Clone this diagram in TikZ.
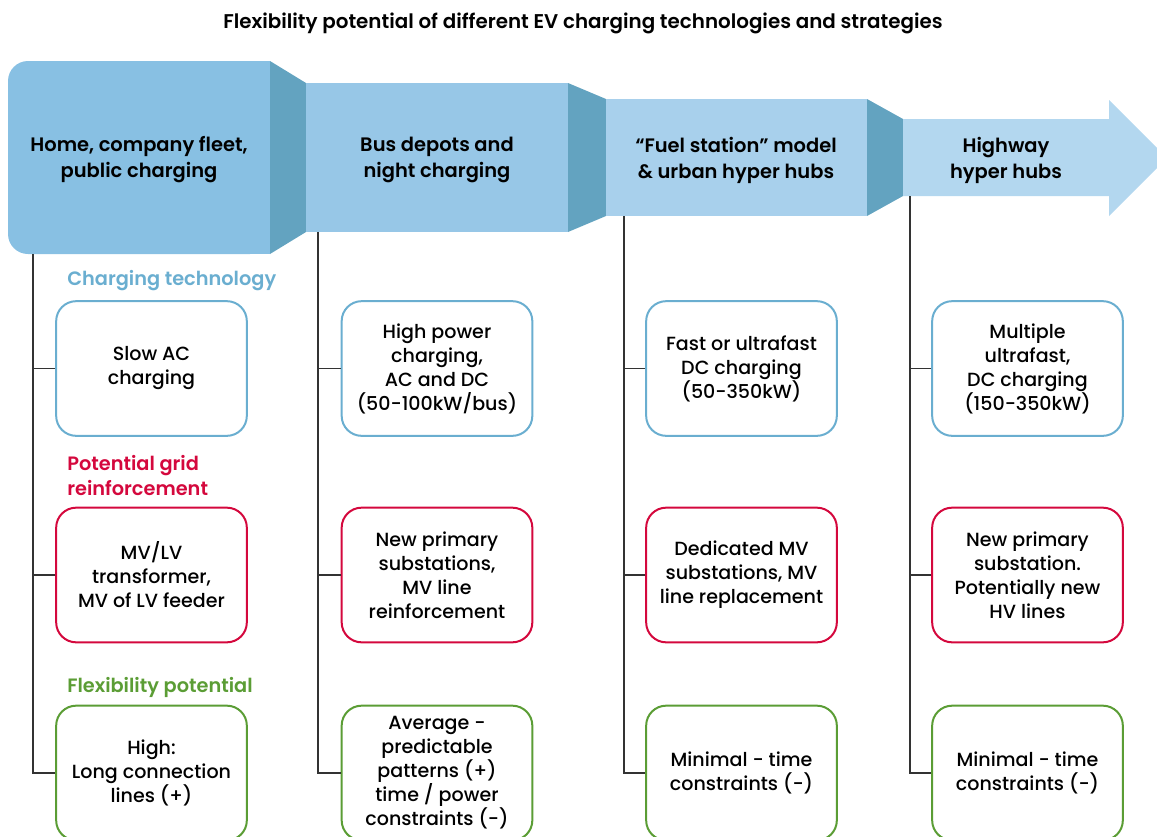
\documentclass[tikz,border=0pt]{standalone}
\usepackage{fontspec}
\setmainfont{Poppins}[UprightFont=* Medium, BoldFont=* SemiBold]
\definecolor{segA}{HTML}{88C0E3}
\definecolor{segB}{HTML}{97C7E7}
\definecolor{segC}{HTML}{A8D0EC}
\definecolor{segD}{HTML}{B3D7EF}
\definecolor{joint}{HTML}{63A3C0}
\definecolor{techC}{HTML}{6AAED0}
\definecolor{gridC}{HTML}{D4083D}
\definecolor{flexC}{HTML}{5B9D35}
\definecolor{lineC}{HTML}{333333}
\begin{document}
\begin{tikzpicture}[x=0.75pt,y=-0.75pt,
  tbox/.style={draw=#1, line width=1.5pt, rounded corners=15pt, minimum width=143pt,
    minimum height=101pt, align=center, inner sep=2pt, font=\fontsize{14.3}{18}\selectfont},
  head/.style={align=center, font=\bfseries\fontsize{14.6}{19.5}\selectfont},
  cat/.style={anchor=west, align=left, inner sep=0pt, text=#1, font=\bfseries\fontsize{14.5}{18.75}\selectfont},
  trunk/.style={draw=lineC, line width=1.1pt}]
\useasboundingbox (0,0) rectangle (1157,836);

% title
\node[font=\bfseries\fontsize{14.9}{18}\selectfont] (title) at (583,23)
  {Flexibility potential of different EV charging technologies and strategies};

% header band
\fill[segA, rounded corners=15pt] (8,61) rectangle (270,254);
\fill[segA] (200,61) rectangle (270,254);
\fill[joint] (270,61) -- (306,83) -- (306,232) -- (270,254) -- cycle;
\fill[segB] (306,83) rectangle (568,232);
\fill[joint] (568,83) -- (606,99) -- (606,216) -- (568,232) -- cycle;
\fill[segC] (606,99) rectangle (867,216);
\fill[joint] (867,99) -- (903,119) -- (903,196) -- (867,216) -- cycle;
\fill[segD] (903,119) -- (1109,119) -- (1109,100) -- (1167,158)
  -- (1109,216) -- (1109,196) -- (903,196) -- cycle;

\node[head] (h1) at (139,160) {Home, company fleet,\\public charging};
\node[head] (h2) at (437,160) {Bus depots and\\night charging};
\node[head] (h3) at (736,160) {“Fuel station” model\\\& urban hyper hubs};
\node[head] (h4) at (1006,160) {Highway\\hyper hubs};

% row labels
\node[cat=techC] (lt) at (67,281) {Charging technology};
\node[cat=gridC] (lg) at (67,476) {Potential grid\\reinforcement};
\node[cat=flexC] (lf) at (67,687) {Flexibility potential};

% boxes
\foreach \n/\x/\a/\b/\c in
  {1/151.5/{Slow AC\\charging}/{MV/LV\\transformer,\\MV of LV feeder}/{High:\\Long connection\\lines (+)},
   2/437/{High power\\charging,\\AC and DC\\(50-100kW/bus)}/{New primary\\substations,\\MV line\\reinforcement}/{Average -\\predictable\\patterns (+)\\time / power\\constraints (-)},
   3/741.5/{Fast or ultrafast\\DC charging\\(50-350kW)}/{Dedicated MV\\substations, MV\\line replacement}/{Minimal - time\\constraints (-)},
   4/1027.5/{Multiple\\ultrafast,\\DC charging\\(150-350kW)}/{New primary\\substation.\\Potentially new\\HV lines}/{Minimal - time\\constraints (-)}}
  {
  \node[tbox=techC] (t\n) at (\x,368.5) {\a};
  \node[tbox=gridC] (r\n) at (\x,575) {\b};
  \node[tbox=flexC] (f\n) at (\x,773) {\c};
  }

% trunks
\coordinate (k1) at (33,254);
\coordinate (k2) at (318,232);
\coordinate (k3) at (624,216);
\coordinate (k4) at (910,196);
\foreach \n in {1,...,4}
  {
  \draw[trunk] (k\n) |- (f\n.west);
  \draw[trunk] (t\n.west) -- (t\n.west -| k\n);
  \draw[trunk] (r\n.west) -- (r\n.west -| k\n);
  }
\end{tikzpicture}
\end{document}
